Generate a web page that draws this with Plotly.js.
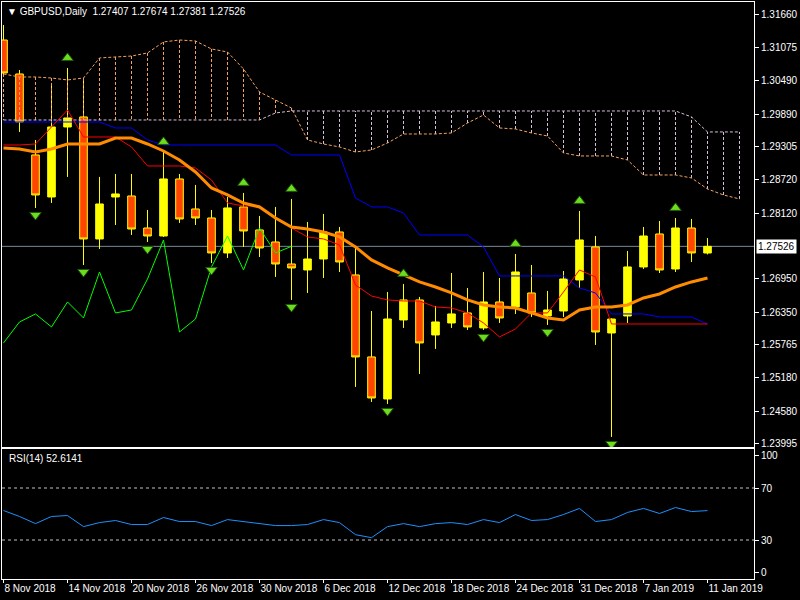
<!DOCTYPE html>
<html><head><meta charset="utf-8">
<script src="https://cdn.plot.ly/plotly-3.0.1.min.js"></script>
<style>html,body{margin:0;padding:0;background:#000;} #chart{width:800px;height:600px;}</style>
</head><body><div id="chart"></div>
<script>
const symbol = 'GBPUSD';
const timeframe = 'Daily';
const dates = ['8 Nov 2018','9 Nov 2018','12 Nov 2018','13 Nov 2018','14 Nov 2018','15 Nov 2018','16 Nov 2018','19 Nov 2018',
  '20 Nov 2018','21 Nov 2018','22 Nov 2018','23 Nov 2018','26 Nov 2018','27 Nov 2018','28 Nov 2018','29 Nov 2018',
  '30 Nov 2018','3 Dec 2018','4 Dec 2018','5 Dec 2018','6 Dec 2018','7 Dec 2018','10 Dec 2018','11 Dec 2018',
  '12 Dec 2018','13 Dec 2018','14 Dec 2018','17 Dec 2018','18 Dec 2018','19 Dec 2018','20 Dec 2018','21 Dec 2018',
  '24 Dec 2018','26 Dec 2018','27 Dec 2018','28 Dec 2018','31 Dec 2018','2 Jan 2019','3 Jan 2019','4 Jan 2019',
  '7 Jan 2019','8 Jan 2019','9 Jan 2019','10 Jan 2019','11 Jan 2019'];
const open = [1.31213,1.30606,1.29159,1.28408,1.29659,1.29838,1.27658,1.28408,1.28426,1.27854,1.27711,1.28730,1.28194,1.28033,1.27408,1.28230,1.27819,1.27604,1.27211,1.27104,1.27300,1.27783,1.27015,1.25550,1.24799,1.26211,1.26568,1.25943,1.26157,1.26336,1.26068,1.26532,1.26443,1.26693,1.26282,1.26371,1.26925,1.27515,1.25978,1.26282,1.27158,1.27747,1.27122,1.27854,1.27407];
const high = [1.31481,1.30677,1.29427,1.30445,1.30713,1.30534,1.28766,1.28819,1.28819,1.28176,1.29212,1.28819,1.28623,1.28176,1.28408,1.28480,1.28069,1.28230,1.28373,1.27962,1.28105,1.27872,1.27515,1.26371,1.26711,1.26854,1.26622,1.26461,1.27050,1.26782,1.27068,1.26961,1.27390,1.27193,1.26729,1.27086,1.28158,1.27711,1.26240,1.27443,1.27872,1.27979,1.28033,1.28015,1.27674];
const low = [1.30570,1.29570,1.28212,1.28301,1.28766,1.27193,1.27479,1.27908,1.27729,1.27604,1.27694,1.27944,1.27908,1.27229,1.27318,1.27515,1.27336,1.26979,1.26568,1.26693,1.26961,1.27068,1.25014,1.24746,1.24710,1.26068,1.25246,1.25693,1.26068,1.26032,1.26032,1.26157,1.26318,1.26264,1.26121,1.26264,1.26782,1.25764,1.24120,1.26157,1.27122,1.27050,1.27068,1.27247,1.27381];
const close = [1.30624,1.29748,1.28444,1.29659,1.29820,1.27658,1.28283,1.28462,1.27836,1.27711,1.28730,1.28015,1.28033,1.27408,1.28212,1.27801,1.27497,1.27211,1.27140,1.27300,1.27783,1.27247,1.25550,1.24817,1.26228,1.26568,1.25800,1.26175,1.26318,1.26086,1.26532,1.26246,1.27068,1.26336,1.26389,1.26943,1.27640,1.25996,1.26228,1.27158,1.27711,1.27104,1.27854,1.27408,1.27526];
const tenkan = [1.29337,1.29337,1.29355,1.29659,1.29963,1.29480,1.29480,1.29480,1.29302,1.28962,1.28962,1.28962,1.28926,1.28712,1.28301,1.28247,1.28247,1.28051,1.27854,1.27694,1.27658,1.27551,1.26836,1.26639,1.26568,1.26550,1.26550,1.26443,1.26425,1.26336,1.26157,1.25907,1.26050,1.26336,1.26336,1.26711,1.27104,1.26979,1.26139,1.26139,1.26139,1.26139,1.26139,1.26139,1.26139];
const kijun = [1.29748,1.29748,1.29748,1.29748,1.29748,1.29748,1.29748,1.29641,1.29641,1.29427,1.29337,1.29337,1.29337,1.29337,1.29337,1.29337,1.29337,1.29337,1.29159,1.29159,1.29159,1.29159,1.28390,1.28230,1.28230,1.28122,1.27729,1.27729,1.27729,1.27729,1.27515,1.26997,1.26997,1.26997,1.26997,1.26997,1.26782,1.26693,1.26318,1.26318,1.26318,1.26264,1.26264,1.26264,1.26139];
const senkouA = [1.30606,1.30552,1.30552,1.30534,1.30499,1.30534,1.30892,1.30910,1.30927,1.30981,1.31178,1.31213,1.31195,1.31053,1.30999,1.30695,1.30284,1.30141,1.29998,1.29427,1.29355,1.29302,1.29212,1.29248,1.29373,1.29534,1.29534,1.29534,1.29552,1.29730,1.29873,1.29641,1.29623,1.29552,1.29498,1.29194,1.29141,1.29141,1.29141,1.29069,1.28801,1.28801,1.28801,1.28748,1.28551,1.28444,1.28373];
const senkouB = [1.29784,1.29784,1.29784,1.29784,1.29784,1.29784,1.29784,1.29784,1.29784,1.29784,1.29784,1.29784,1.29784,1.29784,1.29784,1.29784,1.29784,1.29909,1.29945,1.29945,1.29945,1.29945,1.29945,1.29945,1.29945,1.29945,1.29945,1.29945,1.29945,1.29945,1.29945,1.29945,1.29945,1.29945,1.29945,1.29945,1.29945,1.29945,1.29945,1.29945,1.29945,1.29945,1.29945,1.29838,1.29570,1.29570,1.29570];
const ma = [1.29284,1.29266,1.29212,1.29266,1.29355,1.29355,1.29355,1.29462,1.29462,1.29355,1.29230,1.29069,1.28855,1.28569,1.28444,1.28301,1.28230,1.28033,1.27872,1.27836,1.27783,1.27694,1.27515,1.27283,1.27140,1.27015,1.26890,1.26800,1.26693,1.26568,1.26479,1.26443,1.26425,1.26336,1.26246,1.26211,1.26389,1.26443,1.26443,1.26479,1.26604,1.26675,1.26800,1.26890,1.26961];
const rsi = [52.7,48.1,42.6,48.1,48.8,40.3,43.4,45.0,41.9,41.9,47.3,44.2,44.2,41.1,45.7,44.2,42.6,41.1,41.1,41.9,45.7,43.4,34.1,31.8,40.3,42.6,40.3,42.6,43.4,41.9,45.7,43.4,49.6,45.0,45.7,49.6,54.3,44.2,45.7,51.2,54.3,50.4,55.0,51.9,52.6141];
const upFractals = [4,10,15,18,25,32,36,42];
const downFractals = [2,5,9,13,18,24,30,34,38];
const priceTicks = [1.31660,1.31075,1.30490,1.29890,1.29305,1.28720,1.28120,1.26950,1.26350,1.25765,1.25180,1.24580,1.23995];
const rsiLevels = [70, 30];
const rsiTickText = ['100','70','30','0'];
const chikouShift = 26;

const n = dates.length;
const idx = dates.map((d, i) => i);
const cloudIdx = senkouA.map((v, i) => i);

// cloud hatching
const hatchUp = {x: [], y: []}, hatchDn = {x: [], y: []};
cloudIdx.forEach(i => {
  const h = senkouA[i] >= senkouB[i] ? hatchUp : hatchDn;
  h.x.push(i, i, null); h.y.push(senkouA[i], senkouB[i], null);
});

const upOff = 0.0018, dnOff = 0.00125;
const P = {xaxis: 'x2', yaxis: 'y', hoverinfo: 'skip', showlegend: false};

const traces = [
  Object.assign({type: 'scatter', mode: 'lines', x: hatchUp.x, y: hatchUp.y, connectgaps: false,
    line: {color: '#F4A460', width: 1, dash: '3px,2px'}}, P),
  Object.assign({type: 'scatter', mode: 'lines', x: hatchDn.x, y: hatchDn.y, connectgaps: false,
    line: {color: '#D8BFD8', width: 1, dash: '3px,2px'}}, P),
  Object.assign({type: 'scatter', mode: 'lines', x: cloudIdx, y: senkouA,
    line: {color: '#F4A460', width: 1, dash: '3px,2px'}}, P),
  Object.assign({type: 'scatter', mode: 'lines', x: cloudIdx, y: senkouB,
    line: {color: '#D8BFD8', width: 1, dash: '3px,2px'}}, P),
  Object.assign({type: 'candlestick', x: idx, open: open, high: high, low: low, close: close,
    whiskerwidth: 0,
    increasing: {fillcolor: '#FFFF00', line: {color: '#FFFF00', width: 1}},
    decreasing: {fillcolor: '#FF4500', line: {color: '#FFFF00', width: 1}}}, P),
  Object.assign({type: 'scatter', mode: 'lines', x: idx, y: kijun, line: {color: '#0000FF', width: 1}}, P),
  Object.assign({type: 'scatter', mode: 'lines', x: idx, y: tenkan, line: {color: '#FF0000', width: 1}}, P),
  Object.assign({type: 'scatter', mode: 'lines', x: idx, y: ma, line: {color: '#FF8C00', width: 3}}, P),
  Object.assign({type: 'scatter', mode: 'lines', x: idx.slice(0, n - chikouShift), y: close.slice(chikouShift),
    line: {color: '#00FF00', width: 1}}, P),
  Object.assign({type: 'scatter', mode: 'markers', x: upFractals, y: upFractals.map(i => high[i] + upOff),
    marker: {symbol: 'triangle-up', size: 10, color: '#6EDC1E', line: {color: '#1E5A0A', width: 1}}}, P),
  Object.assign({type: 'scatter', mode: 'markers', x: downFractals, y: downFractals.map(i => low[i] - dnOff),
    marker: {symbol: 'triangle-down', size: 10, color: '#6EDC1E', line: {color: '#1E5A0A', width: 1}}}, P),
  {type: 'scatter', mode: 'lines', x: idx, y: rsi, xaxis: 'x', yaxis: 'y2', hoverinfo: 'skip', showlegend: false,
    line: {color: '#1E90FF', width: 1}}
];

const dateTickIdx = idx.filter(i => i % 4 === 0);
const last = n - 1;
const fnt = {family: 'Liberation Sans, Arial, sans-serif', size: 10, color: '#FFFFFF'};

const layout = {
  width: 800, height: 600,
  paper_bgcolor: '#000000', plot_bgcolor: '#000000',
  margin: {l: 2, r: 46, t: 2, b: 21, pad: 0},
  showlegend: false,
  boxgap: 0.32,
  font: fnt,
  xaxis: {domain: [0, 1], anchor: 'y2', range: [-0.094, 46.906], tickvals: dateTickIdx,
    ticktext: dateTickIdx.map(i => dates[i]), tickangle: 0, ticks: 'outside', ticklen: 3, tickcolor: '#FFFFFF',
    ticklabelposition: 'outside right', showline: true, linecolor: '#FFFFFF', linewidth: 1, mirror: true,
    showgrid: false, zeroline: false, rangeslider: {visible: false}, tickfont: fnt},
  xaxis2: {domain: [0, 1], anchor: 'y', matches: 'x', showticklabels: false, ticks: '',
    showline: true, linecolor: '#FFFFFF', linewidth: 1, mirror: true, showgrid: false, zeroline: false,
    rangeslider: {visible: false}},
  yaxis: {domain: [0.2288, 1], anchor: 'x2', side: 'right', range: [1.23941, 1.31892],
    tickvals: priceTicks, tickformat: '.5f', ticks: 'outside', ticklen: 4, tickcolor: '#FFFFFF',
    showline: true, linecolor: '#FFFFFF', linewidth: 1, mirror: true, showgrid: false, zeroline: false, tickfont: fnt},
  yaxis2: {domain: [0, 0.2253], anchor: 'x', side: 'right', range: [0, 100],
    tickvals: [95.3, 70, 30, 4.7], ticktext: rsiTickText, ticks: 'outside', ticklen: 4, tickcolor: '#FFFFFF',
    showline: true, linecolor: '#FFFFFF', linewidth: 1, mirror: true, showgrid: false, zeroline: false, tickfont: fnt},
  shapes: [
    {type: 'line', xref: 'paper', yref: 'y', x0: 0, x1: 1, y0: close[last], y1: close[last],
      line: {color: '#778899', width: 1}, layer: 'below'}
  ].concat(rsiLevels.map(v => ({type: 'line', xref: 'paper', yref: 'y2', x0: 0, x1: 1, y0: v, y1: v,
      line: {color: '#C0C0C0', width: 1, dash: '3px,3px'}, layer: 'below'}))),
  annotations: [
    {xref: 'paper', yref: 'paper', x: 0.004, y: 0.9844, xanchor: 'left', yanchor: 'middle', showarrow: false,
      text: '\u25BC\u00A0' + symbol + ',' + timeframe + '\u00A0\u00A0' + [open[last], high[last], low[last], close[last]].map(v => v.toFixed(5)).join(' '),
      font: fnt},
    {xref: 'paper', yref: 'paper', x: 0.006, y: 0.208, xanchor: 'left', yanchor: 'middle', showarrow: false,
      text: 'RSI(14) ' + rsi[last].toFixed(4), font: fnt},
    {xref: 'paper', yref: 'y', x: 1.0027, y: close[last], xanchor: 'left', yanchor: 'middle', showarrow: false,
      text: close[last].toFixed(5), bgcolor: '#FFFFFF', borderpad: 1,
      font: {family: fnt.family, size: 10, color: '#000000'}}
  ]
};

Plotly.newPlot('chart', traces, layout, {displayModeBar: false, staticPlot: true});
</script>
</body></html>
